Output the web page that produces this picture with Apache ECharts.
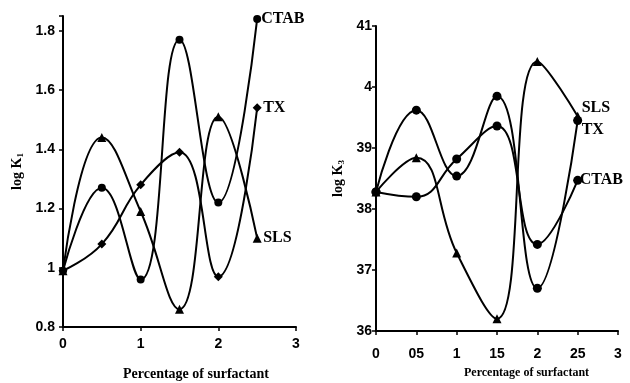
<!DOCTYPE html>
<html>
<head>
<meta charset="utf-8">
<script src="https://cdn.jsdelivr.net/npm/echarts@6/dist/echarts.min.js"></script>
<style>html,body{margin:0;padding:0;background:#fff;}#c{width:630px;height:383px;}</style>
</head>
<body>
<div id="c"></div>
<script>
// ---- data ----
const xValues = [0, 0.5, 1, 1.5, 2, 2.5];
const leftCTAB = [0.99, 1.27, 0.96, 1.77, 1.22, 1.84];
const leftTX   = [0.99, 1.08, 1.28, 1.39, 0.97, 1.54];
const leftSLS  = [0.99, 1.44, 1.19, 0.86, 1.51, 1.10];
const rightSLS  = [38.28, 38.84, 37.28, 36.2, 40.42, 39.52];
const rightTX   = [38.28, 39.62, 38.54, 39.85, 36.7, 39.45];
const rightCTAB = [38.28, 38.2, 38.82, 39.36, 37.42, 38.47];
const leftXTicks = ['0', '1', '2', '3'];
const leftYTicks = ['0.8', '1', '1.2', '1.4', '1.6', '1.8'];
const rightXTicks = ['0', '05', '1', '15', '2', '25', '3'];
const rightYTicks = ['36', '37', '38', '39', '4', '41'];
const xTitle = 'Percentage of surfactant';

const chart = echarts.init(document.getElementById('c'));
const tickFont = { color: '#000', fontFamily: 'Liberation Sans', fontWeight: 'bold', fontSize: 14 };
const serif = 'Liberation Serif';

function pick(labels, min, step) {
  return function (v) {
    const k = Math.round((v - min) / step);
    if (Math.abs(min + k * step - v) > 1e-6) return '';
    return labels[k] !== undefined ? labels[k] : '';
  };
}
function pairs(vals) { return vals.map((v, i) => [xValues[i], v]); }
function line(name, vals, idx, symbol, size, offset) {
  return {
    type: 'line', name: name, xAxisIndex: idx, yAxisIndex: idx,
    data: pairs(vals), smooth: 0.45, symbol: symbol, symbolSize: size,
    lineStyle: { color: '#000', width: 2 }, itemStyle: { color: '#000' },
    clip: false,
    endLabel: { show: true, formatter: name, color: '#000', fontFamily: serif, fontWeight: 'bold', fontSize: 16, offset: offset, distance: 4 }
  };
}
const axisLine = { show: true, lineStyle: { color: '#000', width: 2 } };

chart.setOption({
  animation: false,
  backgroundColor: '#fff',
  grid: [
    { left: 63, top: 16, width: 233, height: 311 },
    { left: 376, top: 26, width: 242, height: 305 }
  ],
  xAxis: [
    { type: 'value', gridIndex: 0, min: 0, max: 3, interval: 1, splitLine: { show: false },
      axisLine: axisLine, axisTick: { show: true, inside: false, length: 4, lineStyle: { color: '#000', width: 1.5 } },
      axisLabel: Object.assign({ margin: 10, formatter: pick(leftXTicks, 0, 1) }, tickFont) },
    { type: 'value', gridIndex: 1, min: 0, max: 3, interval: 0.5, splitLine: { show: false },
      axisLine: axisLine, axisTick: { show: true, length: 4, lineStyle: { color: '#000', width: 1.5 } },
      axisLabel: Object.assign({ margin: 16, formatter: pick(rightXTicks, 0, 0.5) }, tickFont) }
  ],
  yAxis: [
    { type: 'value', gridIndex: 0, min: 0.8, max: 1.85, interval: 0.2, splitLine: { show: false },
      axisLine: axisLine, axisTick: { show: true, length: 4, lineStyle: { color: '#000', width: 1.5 } },
      axisLabel: Object.assign({ margin: 8, formatter: pick(leftYTicks, 0.8, 0.2) }, tickFont),
      name: '{a|log K}{s|1}', nameLocation: 'middle', nameRotate: 90, nameGap: 38,
      nameTextStyle: { rich: { a: { fontFamily: serif, fontWeight: 'bold', fontSize: 14, color: '#000' }, s: { fontFamily: serif, fontWeight: 'bold', fontSize: 9, color: '#000', verticalAlign: 'bottom', padding: [6, 0, 0, 0] } } } },
    { type: 'value', gridIndex: 1, min: 36, max: 41, interval: 1, splitLine: { show: false },
      axisLine: axisLine, axisTick: { show: true, length: 4, lineStyle: { color: '#000', width: 1.5 } },
      axisLabel: Object.assign({ margin: 4, formatter: pick(rightYTicks, 36, 1) }, tickFont),
      name: '{a|log K}{s|3}', nameLocation: 'middle', nameRotate: 90, nameGap: 30,
      nameTextStyle: { rich: { a: { fontFamily: serif, fontWeight: 'bold', fontSize: 14, color: '#000' }, s: { fontFamily: serif, fontWeight: 'bold', fontSize: 9, color: '#000', verticalAlign: 'bottom', padding: [6, 0, 0, 0] } } } }
  ],
  graphic: [
    { type: 'text', left: 123, top: 367, style: { text: xTitle, font: 'bold 14px "Liberation Serif"', fill: '#000' } },
    { type: 'text', left: 464, top: 367, style: { text: xTitle, font: 'bold 12px "Liberation Serif"', fill: '#000' } }
  ],
  series: [
    line('CTAB', leftCTAB, 0, 'circle', 8, [0, 0]),
    line('TX', leftTX, 0, 'diamond', 9, [2, 0]),
    line('SLS', leftSLS, 0, 'triangle', 9, [2, 0]),
    line('SLS', rightSLS, 1, 'triangle', 9, [0, -8]),
    line('TX', rightTX, 1, 'circle', 9, [0, 9]),
    line('CTAB', rightCTAB, 1, 'circle', 9, [-2, 0])
  ]
});
</script>
</body>
</html>
